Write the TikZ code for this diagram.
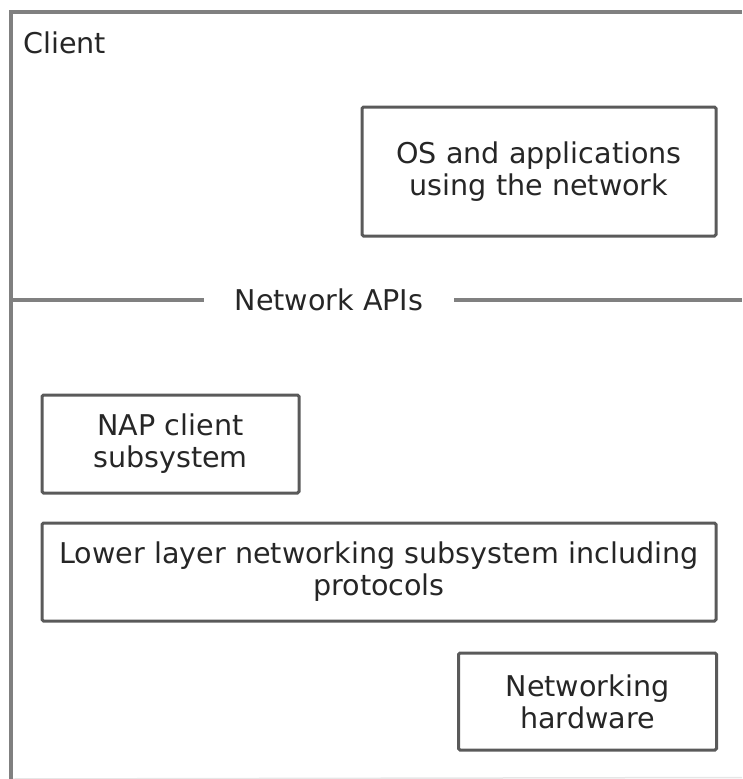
\documentclass[tikz,border=0pt]{standalone}
\usepackage{fontspec}
\setmainfont{DejaVu Sans}
\definecolor{framegray}{HTML}{808080}
\definecolor{boxgray}{HTML}{5A5A5A}
\definecolor{txt}{HTML}{262626}
\definecolor{faint}{HTML}{E6E6E6}
\tikzset{
  lbl/.style={text=txt, font=\fontsize{28.6}{32}\selectfont, align=center, inner sep=0pt},
  box/.style={lbl, draw=boxgray, line width=3pt, rounded corners=1.5pt},
  frameline/.style={draw=framegray, line width=4pt},
}
\begin{document}
\begin{tikzpicture}[x=1pt,y=-1pt]
\useasboundingbox (0,0) rectangle (742,779);
% outer frame
\coordinate (ftr) at (742,11.5);
\coordinate (ftl) at (10.5,11.5);
\coordinate (fbl) at (10.5,779);
\coordinate (fbr) at (742,777.5);
\draw[faint, line width=1.5pt] (fbl) -- (fbr);
\draw[frameline] (ftr) -- (ftl) -- (fbl);
\node[lbl, anchor=west] (client) at (23,43) {Client};
% boxes
\node[box, minimum width=354pt, minimum height=129pt] (os) at (539,171.5) {OS and applications\\using the network};
\node[box, minimum width=257pt, minimum height=98pt] (nap) at (170.5,444) {NAP client\\subsystem};
\node[box, minimum width=674pt, minimum height=98pt] (low) at (379,572) {Lower layer networking subsystem including\\protocols};
\node[box, minimum width=258pt, minimum height=97pt] (hw) at (587.5,701.5) {Networking\\hardware};
% Network APIs line
\coordinate (al) at (10.5,300);
\coordinate (ar) at (742,300);
\node[lbl, inner xsep=31pt, inner ysep=0pt, outer sep=0pt] (api) at (329,300) {Network APIs};
\draw[frameline] (al) -- (api.west);
\draw[frameline] (api.east) -- (ar);
\end{tikzpicture}
\end{document}
